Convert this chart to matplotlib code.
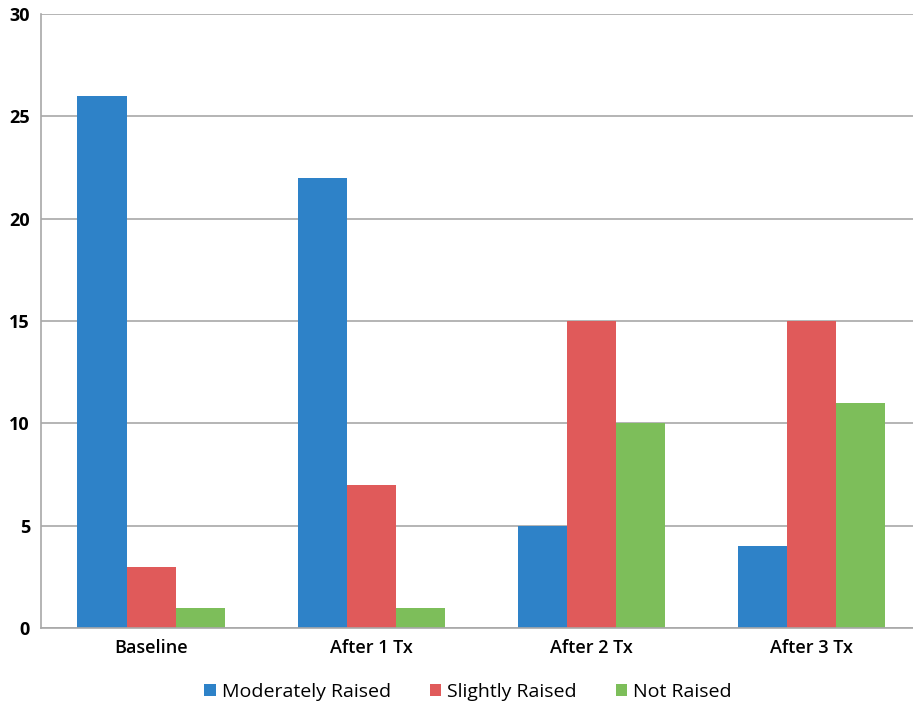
import numpy as np
import matplotlib.pyplot as plt

categories = ["Baseline", "After 1 Tx", "After 2 Tx", "After 3 Tx"]
moderately = [26, 22, 5, 4]
slightly = [3, 7, 15, 15]
not_raised = [1, 1, 10, 11]

plt.rcParams['font.family'] = ['Open Sans', 'DejaVu Sans']

fig = plt.figure(figsize=(9.13, 7.08), dpi=100)
ax = fig.add_axes([41 / 913, 1 - 628 / 708, (913 - 41) / 913, (628 - 14) / 708])

x = np.arange(len(categories))
w = 0.223
ax.bar(x - w, moderately, w, color='#2E82C8', label='Moderately Raised')
ax.bar(x, slightly, w, color='#E05A5A', label='Slightly Raised')
ax.bar(x + w, not_raised, w, color='#7DBE5A', label='Not Raised')

ax.set_ylim(0, 30)
ax.set_xlim(-0.5, 3.46)
ax.set_yticks(range(0, 31, 5))
ax.set_xticks(x)
ax.set_xticklabels(categories, fontsize=13, fontweight='semibold')
ax.tick_params(axis='y', labelsize=13, length=0, pad=8)
ax.tick_params(axis='x', length=0, pad=8)
for t in ax.get_yticklabels():
    t.set_fontweight('bold')
ax.yaxis.grid(True, color='#a8a8a8', linewidth=1.2)
ax.set_axisbelow(True)
for s in ['top', 'right']:
    ax.spines[s].set_visible(False)
ax.spines['left'].set_color('#a8a8a8')
ax.spines['bottom'].set_color('#a8a8a8')
ax.spines['left'].set_linewidth(1.2)
ax.spines['bottom'].set_linewidth(1.2)

fig.legend(loc='center', bbox_to_anchor=(468 / 913, 1 - 692 / 708), ncol=3, frameon=False,
           fontsize=14, handlelength=0.6, handleheight=0.6, handletextpad=0.3, columnspacing=2.0)

fig.savefig('out.png', dpi=100)
